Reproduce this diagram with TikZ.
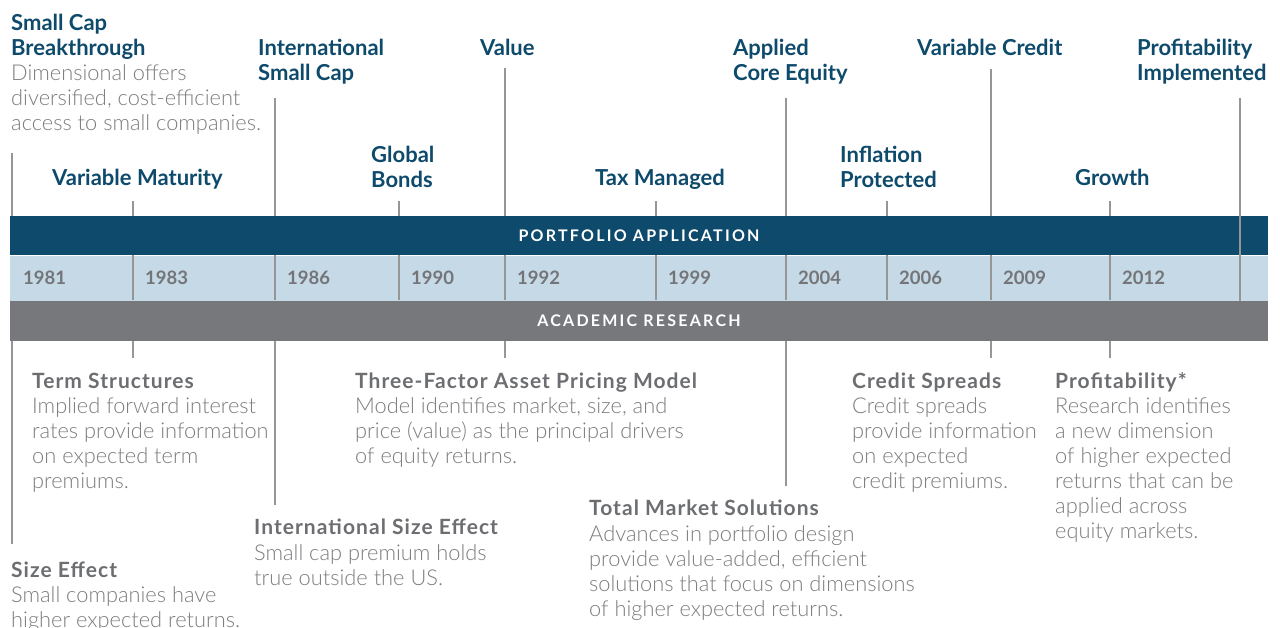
\documentclass[tikz,border=0pt]{standalone}
\usepackage{fontspec}
\usetikzlibrary{positioning}
\setmainfont{Lato}
\IfFontExistsTF{Lato Light}{\newfontfamily\lightfont{Lato Light}}{\newfontfamily\lightfont{Lato}}
\newfontfamily\bandfont{Lato}[LetterSpace=14]
\newfontfamily\rheadfont{Lato}[LetterSpace=5]
\definecolor{dkblue}{rgb}{0.0549,0.2902,0.4196}
\definecolor{ltblue}{rgb}{0.7725,0.8510,0.9020}
\definecolor{bandgray}{rgb}{0.4667,0.4706,0.4863}
\definecolor{ticgray}{rgb}{0.5882,0.5882,0.5882}
\definecolor{headgray}{rgb}{0.4275,0.4314,0.4431}
\definecolor{descgray}{rgb}{0.4863,0.4902,0.5020}
\definecolor{yeargray}{rgb}{0.4549,0.4588,0.4706}
\newcommand\headfont{\fontsize{22}{25}\selectfont\bfseries}
\newcommand\rhfont{\fontsize{21}{25}\rheadfont\bfseries}
\newcommand\descfont{\fontsize{21.8}{25}\lightfont}
\newcommand\tstrut{\rule{0pt}{18pt}}
\begin{document}
\begin{tikzpicture}[x=1pt,y=-1pt,line cap=butt,
  head/.style={anchor=north west,inner sep=0pt,align=left,font=\headfont,text=dkblue},
  rhead/.style={head,font=\rhfont,text=headgray},
  desc/.style={anchor=north west,inner sep=0pt,align=left,font=\descfont,text=descgray},
  band/.style={minimum width=1258pt,inner sep=0pt,text=white,font=\fontsize{16}{18}\bandfont\bfseries},
  tick/.style={draw=ticgray,line width=1.1pt},
  year/.style={anchor=base west,inner sep=0pt,font=\fontsize{18.5}{20}\selectfont\bfseries,text=yeargray}]

\fill[white] (0,0) rectangle (1280,628);
\useasboundingbox (0,0) rectangle (1280,628);

% the three bands
\node[band,fill=dkblue,minimum height=39.5pt] (app) at (639,235.5) {PORTFOLIO APPLICATION};
\node[band,fill=ltblue,minimum height=45pt,below=0pt of app] (years) {};
\node[band,fill=bandgray,minimum height=39.5pt,below=0pt of years] (res) {ACADEMIC RESEARCH};

\foreach \x in {133,275,399,505,656,786,887,991,1110,1240}
\draw[tick] (\x,255.5) -- (\x,300.5);
\foreach \x/\yr in {23/1981,145/1983,287/1986,411/1990,517/1992,668/1999,798/2004,899/2006,1003/2009,1122/2012}
\node[year] (y\yr) at (\x,285) {\yr};

% portfolio application (above)
\node[head] (scb) at (11,12) {\tstrut Small Cap\\Breakthrough};
\node[desc] (scbd) at (11,62) {\tstrut Dimensional offers\\diversified, cost-efficient\\access to small companies.};
\node[head] (vmat) at (52,167) {\tstrut Variable Maturity};
\node[head] (isc) at (258,37) {\tstrut International\\Small Cap};
\node[head] (gb) at (371,144) {\tstrut Global\\Bonds};
\node[head] (val) at (480,37) {\tstrut Value};
\node[head] (tax) at (595,167) {\tstrut Tax Managed};
\node[head] (ace) at (733,37) {\tstrut Applied\\Core Equity};
\node[head] (inf) at (840,144) {\tstrut Inflation\\Protected};
\node[head] (vcr) at (917,37) {\tstrut Variable Credit};
\node[head] (gro) at (1075,167) {\tstrut Growth};
\node[head] (pim) at (1137,37) {\tstrut Profitability\\Implemented};

\foreach \x/\y in {12/153,133/201,275/98,399/201,505/68,656/201,786/98,887/201,991/69,1110/201}{
\coordinate (a\x) at (\x,\y);
\draw[tick] (a\x) -- (a\x |- app.north);
}
\coordinate (a1240) at (1240,98);
\draw[tick] (a1240) -- (a1240 |- years.south);

% academic research (below)
\node[rhead] (ts) at (32,370) {\tstrut Term Structures};
\node[desc] (tsd) at (32,395) {\tstrut Implied forward interest\\rates provide information\\on expected term\\premiums.};
\node[rhead] (tf) at (355,370) {\tstrut Three-Factor Asset Pricing Model};
\node[desc] (tfd) at (355,395) {\tstrut Model identifies market, size, and\\price (value) as the principal drivers\\of equity returns.};
\node[rhead] (cs) at (852,370) {\tstrut Credit Spreads};
\node[desc] (csd) at (852,395) {\tstrut Credit spreads\\provide information\\on expected\\credit premiums.};
\node[rhead] (pr) at (1055,370) {\tstrut Profitability*};
\node[desc] (prd) at (1055,395) {\tstrut Research identifies\\a new dimension\\of higher expected\\returns that can be\\applied across\\equity markets.};
\node[rhead] (ise) at (254,516) {\tstrut International Size Effect};
\node[desc] (ised) at (254,542) {\tstrut Small cap premium holds\\true outside the US.};
\node[rhead] (tms) at (589,497) {\tstrut Total Market Solutions};
\node[desc] (tmsd) at (589,523) {\tstrut Advances in portfolio design\\provide value-added, efficient\\solutions that focus on dimensions\\of higher expected returns.};
\node[rhead] (se) at (11,559) {\tstrut Size Effect};
\node[desc] (sed) at (11,584) {\tstrut Small companies have\\higher expected returns.};

\foreach \x/\y in {12/544,133/358,275/505,505/358,786/486,991/358,1110/358}{
\coordinate (b\x) at (\x,\y);
\draw[tick] (b\x) -- (b\x |- res.south);
}

\end{tikzpicture}
\end{document}
